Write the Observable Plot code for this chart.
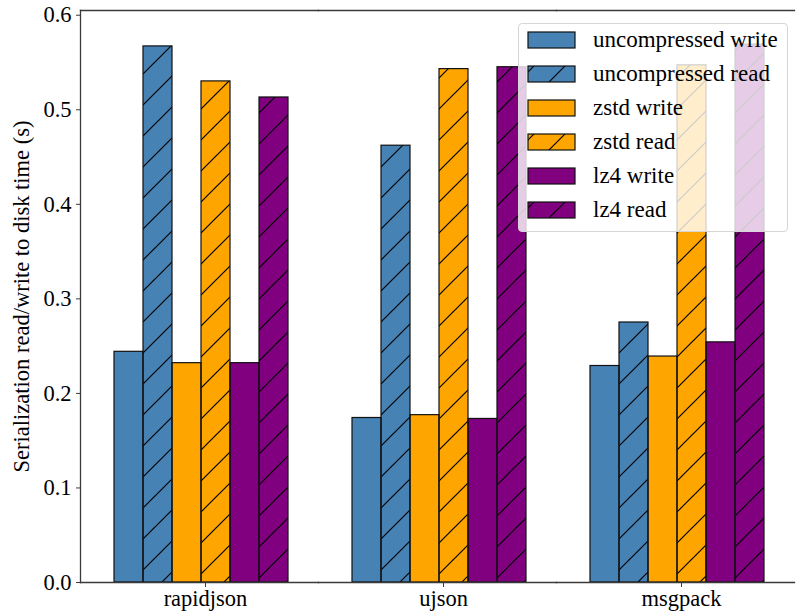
<!DOCTYPE html>
<html>
<head>
<meta charset="utf-8">
<script src="https://cdn.jsdelivr.net/npm/d3@7"></script>
<script src="https://cdn.jsdelivr.net/npm/@observablehq/plot@0.6"></script>
<style>
  html, body { margin: 0; padding: 0; background: #fff; }
  #chart { position: relative; width: 797px; height: 615px; overflow: hidden; }
  #legend {
    position: absolute; left: 518px; top: 23px; width: 270px; height: 209px;
    box-sizing: border-box; background: rgba(255,255,255,0.8);
    border: 1px solid #d6d6d6; border-radius: 4px;
    font-family: "Times New Roman", "Liberation Serif", "DejaVu Serif", serif; font-size: 23px; color: #000;
  }
  .item { position: absolute; left: 8px; height: 20px; display: flex; align-items: center; }
  .item svg { display: block; }
  .item span { margin-left: 17px; line-height: 20px; white-space: nowrap; }
</style>
</head>
<body>
<div id="chart"></div>
<script>
const groups = ["rapidjson", "ujson", "msgpack"];
const series = ["uncompressed write", "uncompressed read", "zstd write", "zstd read", "lz4 write", "lz4 read"];
const colors = ["#4682b4", "#4682b4", "#ffa500", "#ffa500", "#800080", "#800080"];
const hatched = [false, true, false, true, false, true];
const rapidjson = [0.244, 0.567, 0.232, 0.530, 0.232, 0.513];
const ujson     = [0.174, 0.462, 0.177, 0.543, 0.173, 0.545];
const msgpack   = [0.229, 0.275, 0.239, 0.547, 0.254, 0.569];
const yTicks = [0.0, 0.1, 0.2, 0.3, 0.4, 0.5, 0.6];
const yLabel = "Serialization read/write to disk time (s)";

const valuesByGroup = [rapidjson, ujson, msgpack];
const data = groups.flatMap((g, gi) => series.map((s, si) => ({group: g, series: s, value: valuesByGroup[gi][si], hatch: hatched[si]})));

const spine = "#3a3a3a";
const fontSize = 22.5;
const plot = Plot.plot({
  width: 797,
  height: 615,
  marginLeft: 80,
  marginRight: 3,
  marginTop: 10,
  marginBottom: 33,
  style: {fontFamily: "'Times New Roman', 'Liberation Serif', 'DejaVu Serif', serif", fontSize: fontSize + "px", color: "#000", background: "#fff", overflow: "visible"},
  fx: {domain: groups, padding: 0},
  x: {domain: series, paddingInner: 0, paddingOuter: 1, align: 0.538, axis: null},
  y: {domain: [0, 0.605]},
  color: {domain: series, range: colors},
  marks: [
    Plot.barY(data, {fx: "group", x: "series", y: "value", fill: "series"}),
    Plot.barY(data.filter(d => d.hatch), {fx: "group", x: "series", y: "value", fill: "url(#hatch)"}),
    Plot.barY(data, {fx: "group", x: "series", y: "value", fill: "none", stroke: "#111", strokeWidth: 1.2}),
    Plot.frame({anchor: "top", stroke: spine, strokeWidth: 1.3}),
    Plot.frame({anchor: "bottom", stroke: spine, strokeWidth: 1.3}),
    Plot.frame({anchor: "left", facetAnchor: "left", stroke: spine, strokeWidth: 1.3}),
    Plot.axisY({ticks: yTicks, tickFormat: d3.format(".1f"), tickSize: 4, tickPadding: 5, fontSize,
      label: yLabel, labelAnchor: "center", labelArrow: "none", labelOffset: 67, stroke: spine}),
    Plot.axisFx({anchor: "bottom", tickSize: 5, tickPadding: 3, fontSize, dx: 6, label: null, stroke: spine})
  ]
});

const svg = d3.select(plot);
const defs = svg.insert("defs", ":first-child");
const pat = defs.append("pattern").attr("id", "hatch").attr("patternUnits", "userSpaceOnUse")
  .attr("width", 31).attr("height", 31);
pat.append("path").attr("d", "M-2,2 L2,-2 M0,31 L31,0 M29,33 L33,29")
  .attr("stroke", "#000").attr("stroke-width", 1.2).attr("fill", "none");

const chart = document.getElementById("chart");
chart.appendChild(plot);

// Legend
const legend = document.createElement("div");
legend.id = "legend";
series.forEach((s, i) => {
  const item = document.createElement("div");
  item.className = "item";
  item.style.top = (6 + i * 34) + "px";
  const sw = d3.create("svg").attr("width", 49).attr("height", 18);
  const sd = sw.append("defs").append("pattern").attr("id", "lh" + i).attr("patternUnits", "userSpaceOnUse")
    .attr("width", 31).attr("height", 31).attr("x", 8);
  sd.append("path").attr("d", "M-2,2 L2,-2 M0,31 L31,0 M29,33 L33,29").attr("stroke", "#000").attr("stroke-width", 1.2);
  sw.append("rect").attr("x", 1).attr("y", 1).attr("width", 47).attr("height", 16).attr("fill", colors[i]);
  if (hatched[i]) sw.append("rect").attr("x", 1).attr("y", 1).attr("width", 47).attr("height", 16).attr("fill", `url(#lh${i})`);
  sw.append("rect").attr("x", 1).attr("y", 1).attr("width", 47).attr("height", 16).attr("fill", "none").attr("stroke", "#111").attr("stroke-width", 1.2);
  item.appendChild(sw.node());
  const t = document.createElement("span");
  t.textContent = s;
  item.appendChild(t);
  legend.appendChild(item);
});
chart.appendChild(legend);
</script>
</body>
</html>
